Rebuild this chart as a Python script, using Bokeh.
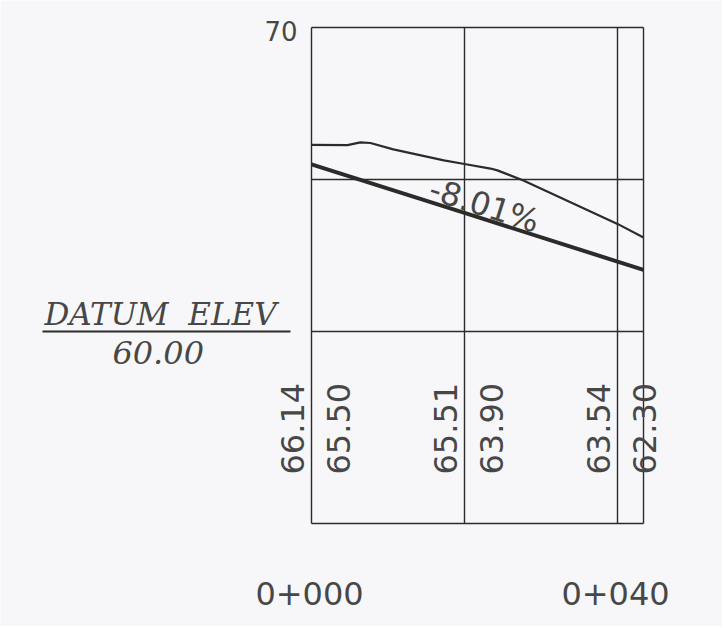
import math
import numpy as np
from bokeh.plotting import figure
from bokeh.models import Range1d
from bokeh.core.properties import value
from bokeh.embed import file_html
from bokeh.resources import INLINE

# ---- data ----
stations = [0, 20, 40]                      # stations with elevation labels
ground_labels = ["66.14", "65.51", "63.54"]  # existing ground elevations
design_labels = ["65.50", "63.90", "62.30"]  # design elevations
ground_x = [0, 4.7, 6.4, 7.7, 10.7, 17.3, 20, 23.4, 24.3, 27.7, 40, 43.4]
ground_y = [66.14, 66.13, 66.22, 66.20, 65.99, 65.63, 65.51, 65.36, 65.30, 64.97, 63.54, 63.09]
design_x = [0, 20, 40, 43.4]
design_y = [65.50, 63.90, 62.30, 62.03]
grade_pct = -8.01
grade_text = "-8.01%"
chain_ticks = [0, 40]
chain_labels = ["0+000", "0+040"]
top_elev = 70
mid_elev = 65
datum_elev = 60
datum_title = "DATUM\u00a0\u00a0ELEV"
datum_text = "60.00"
end_station = 43.4

# ---- layout constants (page px: station s -> 311 + 7.65 s, elev e -> 331 - 30.4 (e-60)) ----
W, H = 722, 626
PX, PY = 7.65, 30.4
x0, x1 = (0 - 311) / PX, (W - 311) / PX
y1, y0 = 60 + 331 / PY, 60 - (H - 331) / PY
band_bottom = 60 - (523 - 331) / PY
label_base = 60 - (474 - 331) / PY
chain_row = 60 - (593 - 331) / PY

INK = "#2b2b2b"
TXT = "#474747"
BG = "#f7f7f9"
SANS = value("DejaVu Sans")
SERIF = value("DejaVu Serif")

p = figure(width=W, height=H, x_range=Range1d(x0, x1), y_range=Range1d(y0, y1),
           output_backend="svg", toolbar_location=None, min_border=0)
p.axis.visible = False
p.grid.visible = False
p.outline_line_color = None
p.background_fill_color = BG
p.border_fill_color = BG

# frame horizontals
for e in [top_elev, mid_elev, datum_elev]:
    p.line([0, end_station], [e, e], line_color=INK, line_width=1.6)
p.line([0, end_station], [band_bottom, band_bottom], line_color=INK, line_width=1.6)
# frame verticals
for s in [0] + stations[1:] + [end_station]:
    p.line([s, s], [band_bottom, top_elev], line_color=INK, line_width=1.4)

# profiles
p.line(ground_x, ground_y, line_color=INK, line_width=2.2)
p.line(design_x, design_y, line_color=INK, line_width=4)

# grade label along the design line
ang = math.atan(grade_pct / 100 * PY / PX)
gs = 22.6
gy = float(np.interp(gs, design_x, design_y))
p.text(x=[gs], y=[gy], text=[grade_text], angle=ang, text_font=SANS,
       text_font_size="32px", text_color=TXT, text_align="center",
       text_baseline="middle", y_offset=-14)

# elevation labels in the band (rotated)
p.text(x=stations, y=[label_base] * 3, text=ground_labels, angle=math.pi / 2,
       text_font=SANS, text_font_size="32px", text_color=TXT,
       text_align="left", text_baseline="middle", x_offset=-19)
p.text(x=stations, y=[label_base] * 3, text=design_labels, angle=math.pi / 2,
       text_font=SANS, text_font_size="32px", text_color=TXT,
       text_align="left", text_baseline="middle", x_offset=27)

# chainage labels
p.text(x=chain_ticks, y=[chain_row] * 2, text=chain_labels, text_font=SANS,
       text_font_size="32px", text_color=TXT, text_align="center",
       text_baseline="middle", x_offset=-2)

# top elevation label
p.text(x=[0], y=[top_elev], text=[str(top_elev)], text_font=SANS,
       text_font_size="26px", text_color=TXT, text_align="right",
       text_baseline="middle", x_offset=-14, y_offset=3)

# datum block
dx = (160 - 311) / PX
p.text(x=[dx], y=[datum_elev], text=[datum_title], text_font=SERIF,
       text_font_style="italic", text_font_size="31px", text_color=TXT,
       text_align="center", text_baseline="middle", y_offset=-18)
p.text(x=[dx - 0.3], y=[datum_elev], text=[datum_text], text_font=SERIF,
       text_font_style="italic", text_font_size="32px", text_color=TXT,
       text_align="center", text_baseline="middle", y_offset=21)
p.line([(42 - 311) / PX, (290 - 311) / PX], [datum_elev, datum_elev],
       line_color=INK, line_width=1.8)

open("out.html", "w").write(file_html(p, INLINE))
